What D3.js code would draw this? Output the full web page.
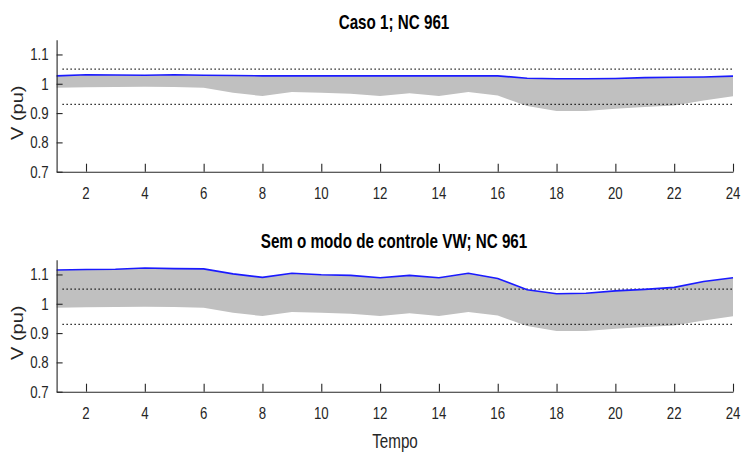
<!DOCTYPE html>
<html>
<head>
<meta charset="utf-8">
<script src="https://cdn.jsdelivr.net/npm/d3@7"></script>
<style>
  html, body { margin: 0; padding: 0; background: #fff; }
  svg { display: block; }
  text { font-family: "Liberation Sans", Arial, Helvetica, sans-serif; }
</style>
</head>
<body>
<svg id="chart" width="741" height="452"></svg>
<script>
// ---- data ----
const hours = [1,2,3,4,5,6,7,8,9,10,11,12,13,14,15,16,17,18,19,20,21,22,23,24];
const vMin = [0.986,0.988,0.989,0.990,0.989,0.986,0.969,0.958,0.972,0.969,0.966,0.958,
              0.968,0.958,0.972,0.960,0.924,0.907,0.907,0.915,0.921,0.926,0.943,0.957];
const vMaxCaso1 = [1.027,1.031,1.030,1.029,1.031,1.029,1.028,1.027,1.027,1.027,1.027,1.027,
                   1.027,1.027,1.027,1.027,1.019,1.017,1.017,1.018,1.021,1.022,1.023,1.026];
const vMaxSemVW = [1.115,1.117,1.118,1.122,1.120,1.119,1.102,1.090,1.104,1.099,1.097,1.089,
                   1.097,1.089,1.104,1.086,1.048,1.034,1.036,1.044,1.049,1.056,1.076,1.089];
const limits = [1.05, 0.93];
const xTicks = [2,4,6,8,10,12,14,16,18,20,22,24];
const yTicks = [0.7,0.8,0.9,1,1.1];
const yTickLabels = ["0.7","0.8","0.9","1","1.1"];
const titles = ["Caso 1; NC 961", "Sem o modo de controle VW; NC 961"];
const xLabel = "Tempo";
const yLabel = "V (pu)";

// ---- layout ----
const svg = d3.select("#chart");
const SX = 0.78; // horizontal text compression of the original
const axisColor = "#262626";

const x = d3.scaleLinear().domain([1, 24]).range([56.6, 733]);

const panels = [
  { top: 39.8, bottom: 171.7, max: vMaxCaso1, title: titles[0], titleY: 29 },
  { top: 259.8, bottom: 391.7, max: vMaxSemVW, title: titles[1], titleY: 248 }
];

panels.forEach((p, i) => {
  const y = d3.scaleLinear().domain([0.7, 1.15]).range([p.bottom, p.top]);
  const g = svg.append("g");

  const rows = hours.map((h, k) => ({ h, lo: vMin[k], hi: p.max[k] }));

  // gray band
  const area = d3.area().x(d => x(d.h)).y0(d => y(d.lo)).y1(d => y(d.hi)).curve(d3.curveLinear);
  g.append("path").datum(rows).attr("d", area).attr("fill", "#c0c0c0").attr("stroke", "none");

  // dotted limits
  limits.forEach(L => {
    g.append("line")
      .attr("x1", x(1.2)).attr("x2", x(24))
      .attr("y1", y(L)).attr("y2", y(L))
      .attr("stroke", "#000").attr("stroke-width", 1.2)
      .attr("stroke-dasharray", "1.3,2.7");
  });

  // blue line
  const line = d3.line().x(d => x(d.h)).y(d => y(d.hi));
  g.append("path").datum(rows).attr("d", line)
    .attr("fill", "none").attr("stroke", "#1a1aff").attr("stroke-width", 1.6);

  // axes
  const xAxis = d3.axisBottom(x).tickValues(xTicks).tickSizeInner(-8).tickSizeOuter(0).tickFormat("");
  const gx = g.append("g").attr("transform", `translate(0,${p.bottom})`).call(xAxis);
  const yAxis = d3.axisLeft(y).tickValues(yTicks).tickSizeInner(-6).tickSizeOuter(0).tickFormat("");
  const gy = g.append("g").attr("transform", `translate(${x(1)},0)`).call(yAxis);
  [gx, gy].forEach(a => {
    a.selectAll("path, line").attr("stroke", axisColor).attr("stroke-width", 1.1);
  });

  // tick labels (compressed horizontally like the original)
  xTicks.forEach(v => {
    g.append("text")
      .attr("transform", `translate(${x(v)},${p.bottom + 27}) scale(${SX},1)`)
      .attr("text-anchor", "middle").attr("font-size", 17).attr("fill", axisColor)
      .text(String(v));
  });
  yTicks.forEach((v, k) => {
    g.append("text")
      .attr("transform", `translate(${x(1) - 8},${y(v) + 6}) scale(${SX},1)`)
      .attr("text-anchor", "end").attr("font-size", 17).attr("fill", axisColor)
      .text(yTickLabels[k]);
  });

  // title
  g.append("text")
    .attr("transform", `translate(394,${p.titleY}) scale(${SX},1)`)
    .attr("text-anchor", "middle").attr("font-size", 19.5).attr("font-weight", "bold").attr("fill", "#000")
    .text(p.title);

  // y label
  g.append("text")
    .attr("transform", `translate(23,${(p.top + p.bottom) / 2 + 7}) scale(${SX},1) rotate(-90)`)
    .attr("text-anchor", "middle").attr("font-size", 20).attr("fill", axisColor)
    .text(yLabel);
});

// x label
svg.append("text")
  .attr("transform", `translate(395,448) scale(${SX},1)`)
  .attr("text-anchor", "middle").attr("font-size", 19.5).attr("fill", axisColor)
  .text(xLabel);
</script>
</body>
</html>
